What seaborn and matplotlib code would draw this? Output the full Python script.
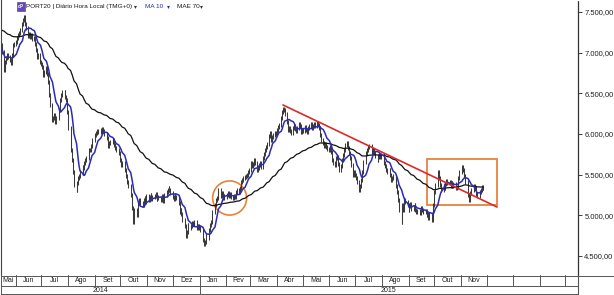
import numpy as np
import pandas as pd
import matplotlib
matplotlib.use("Agg")
import matplotlib.pyplot as plt
import matplotlib.dates as mdates
from matplotlib.patches import Ellipse, Rectangle
import seaborn as sns

# ---------------- data (daily closes) ----------------
start_date = "2014-05-15"
close_2014_05 = [7094, 7008, 6787, 6885, 6934, 6971, 6947, 6910, 6873, 6971, 7094, 7107]
close_2014_06 = [7131, 7180, 7217, 7242, 7279, 7352, 7402, 7439, 7352, 7303, 7205, 7230,
                 7193, 7217, 7168, 7180, 7107, 7033, 6947, 6971, 6885]
close_2014_07 = [6861, 6824, 6725, 6762, 6812, 6738, 6639, 6480, 6357, 6172, 6197, 6234,
                 6148, 6197, 6234, 6295, 6418, 6480, 6516, 6516, 6455, 6418, 6270]
close_2014_08 = [6074, 5889, 5803, 5680, 5533, 5373, 5311, 5398, 5459, 5484, 5533, 5594,
                 5582, 5643, 5680, 5705, 5766, 5803, 5803, 5852, 5926]
close_2014_09 = [5963, 5988, 6012, 6037, 6025, 6049, 6037, 6061, 6037, 6000, 5951, 5926,
                 5852, 5889, 5902, 5926, 5889, 5865, 5828, 5803, 5766, 5729]
close_2014_10 = [5680, 5619, 5643, 5557, 5508, 5484, 5410, 5361, 5250, 5188, 5090, 4918,
                 5066, 5004, 5127, 5152, 5188, 5152, 5127, 5188, 5213, 5164, 5238]
close_2014_11 = [5188, 5225, 5250, 5201, 5225, 5238, 5262, 5201, 5225, 5213, 5188, 5238,
                 5213, 5176, 5250, 5287, 5311, 5336, 5311, 5275]
close_2014_12 = [5225, 5201, 5238, 5213, 5225, 5152, 5041, 5066, 5016, 4943, 4869, 4746,
                 4795, 4881, 4844, 4869, 4906, 4893, 4893, 4918, 4844, 4869, 4844]
close_2015_01 = [4844, 4820, 4697, 4647, 4672, 4746, 4721, 4820, 4881, 4918, 5004, 5041,
                 5127, 5188, 5213, 5287, 5311, 5238, 5275, 5213, 5238, 5225]
close_2015_02 = [5250, 5275, 5238, 5262, 5225, 5213, 5238, 5225, 5287, 5311, 5287, 5336,
                 5410, 5434, 5459, 5471, 5484, 5496, 5533, 5557]
close_2015_03 = [5643, 5606, 5631, 5680, 5643, 5557, 5582, 5619, 5643, 5594, 5705, 5754,
                 5803, 5840, 5877, 5975, 6012, 5926, 5963, 5988, 6012, 6000]
close_2015_04 = [6049, 6086, 6111, 6197, 6270, 6307, 6295, 6246, 6148, 6049, 6074, 6037,
                 6012, 6074, 6098, 6061, 6037, 6074, 6123, 6098, 6025, 6049]
close_2015_05 = [6037, 6086, 6049, 6025, 6074, 6098, 6123, 6074, 6098, 6123, 6098, 6135,
                 6111, 6074, 5988, 5926, 5889, 5852, 5877, 5840, 5815]
close_2015_06 = [5803, 5840, 5779, 5680, 5643, 5619, 5705, 5717, 5631, 5557, 5606, 5680,
                 5742, 5803, 5865, 5889, 5828, 5766, 5705, 5619, 5496, 5533]
close_2015_07 = [5496, 5459, 5410, 5311, 5361, 5434, 5533, 5656, 5705, 5766, 5803, 5840,
                 5852, 5815, 5779, 5803, 5766, 5729, 5680, 5717, 5742, 5717, 5742]
close_2015_08 = [5680, 5643, 5606, 5557, 5533, 5557, 5496, 5434, 5459, 5484, 5410, 5361,
                 5287, 5188, 5066, 4918, 5127, 5066, 5188, 5164, 5127]
close_2015_09 = [5066, 5115, 5139, 5078, 5102, 5127, 5066, 5041, 5053, 5029, 5066, 5090,
                 5066, 5041, 5053, 5004, 5016, 4967, 5016, 4943, 4980, 5127]
close_2015_10 = [5287, 5373, 5533, 5496, 5459, 5373, 5311, 5361, 5336, 5385, 5422, 5398,
                 5410, 5361, 5398, 5361, 5385, 5336, 5348, 5398, 5459, 5533]
close_2015_11 = [5594, 5557, 5508, 5484, 5410, 5250, 5188, 5213, 5275, 5311, 5361, 5336,
                 5311, 5262, 5238, 5287, 5311, 5336, 5348, 5336]

ema70_seed = 7290          # level of the MAE 70 at the left edge
ma_window = 10
ema_span = 70

month_labels = ["Mai", "Jun", "Jul", "Ago", "Set", "Out", "Nov", "Dez", "Jan", "Fev",
                "Mar", "Abr", "Mai", "Jun", "Jul", "Ago", "Set", "Out", "Nov"]
year_labels = ["2014", "2015"]
y_ticks = [4500, 5000, 5500, 6000, 6500, 7000, 7500]

# annotations drawn on the chart
trend_dates = ["2015-04-08", "2015-12-13"]
trend_values = [6357, 5102]
circle_center = ("2015-02-05", 5213)
circle_size = (39.5, 420)            # days, points
box_dates = ["2015-09-22", "2015-12-13"]
box_values = [5127, 5692]

title_text = "PORT20 | Diário Hora Local (TMG+0)"

# ---------------- build table ----------------
closes = np.array(close_2014_05 + close_2014_06 + close_2014_07 + close_2014_08 +
                  close_2014_09 + close_2014_10 + close_2014_11 + close_2014_12 +
                  close_2015_01 + close_2015_02 + close_2015_03 + close_2015_04 +
                  close_2015_05 + close_2015_06 + close_2015_07 + close_2015_08 +
                  close_2015_09 + close_2015_10 + close_2015_11, dtype=float)
dates = pd.bdate_range(start_date, periods=len(closes))
df = pd.DataFrame({"date": dates, "close": closes})
df["ma10"] = df["close"].rolling(ma_window, min_periods=1).mean()
alpha = 2.0 / (ema_span + 1)
ema = []
prev = ema70_seed
for c in closes:
    prev = alpha * c + (1 - alpha) * prev
    ema.append(prev)
df["ema70"] = ema
prev_close = np.concatenate([[closes[0]], closes[:-1]])
pad = 28
df["lo"] = np.minimum(prev_close, closes) - pad
df["hi"] = np.maximum(prev_close, closes) + pad

# ---------------- figure ----------------
sns.set_style("white")
plt.rcParams["font.family"] = ["Liberation Sans", "DejaVu Sans"]

W, H = 614, 295
fig = plt.figure(figsize=(W / 100, H / 100), dpi=100)
fig.patch.set_facecolor("white")

axis_right_px = 578
plot_bottom_px = 275
ax = fig.add_axes([0.5 / W, (H - plot_bottom_px) / H, (axis_right_px - 0.5) / W,
                   plot_bottom_px / H])

x_left = pd.Timestamp("2014-05-14 13:00")
x_right = pd.Timestamp("2016-03-16 02:00")

ax.vlines(df["date"], df["lo"], df["hi"], color="#3a3a3a", linewidth=0.75)
sns.lineplot(data=df, x="date", y="ema70", ax=ax, color="#111111", linewidth=0.9)
sns.lineplot(data=df, x="date", y="ma10", ax=ax, color="#2b2bb5", linewidth=1.1)

# trend line, circle, rectangle
ax.plot(pd.to_datetime(trend_dates), trend_values, color="#e0282a", linewidth=1.2)
cx = mdates.date2num(pd.Timestamp(circle_center[0]))
ax.add_patch(Ellipse((cx, circle_center[1]), circle_size[0], circle_size[1],
                     fill=False, edgecolor="#e8823a", linewidth=1.2))
bx0, bx1 = mdates.date2num(pd.to_datetime(box_dates))
ax.add_patch(Rectangle((bx0, box_values[0]), bx1 - bx0, box_values[1] - box_values[0],
                       fill=False, edgecolor="#e8823a", linewidth=1.3))

ax.set_xlim(x_left, x_right)
ax.set_ylim(4266, 7647.5)
ax.set_xlabel("")
ax.set_ylabel("")
ax.set_xticks([])
ax.yaxis.tick_right()
ax.set_yticks(y_ticks)
ax.set_yticklabels([f"{v:,.2f}".replace(",", "X").replace(".", ",").replace("X", ".")
                    for v in y_ticks])
ax.tick_params(axis="y", which="major", direction="out", length=3, width=0.6,
               pad=1.5, labelsize=5.5, labelcolor="#222222", color="#222222")
for s in ["top", "bottom"]:
    ax.spines[s].set_visible(False)
ax.spines["left"].set_color("#444444")
ax.spines["left"].set_linewidth(0.8)
ax.spines["right"].set_color("#333333")
ax.spines["right"].set_linewidth(0.9)
ax.spines["right"].set_linestyle((0, (1, 1)))
if ax.get_legend():
    ax.get_legend().remove()

# ---------------- bottom month / year band ----------------
axb = fig.add_axes([0.5 / W, 0, (axis_right_px - 0.5) / W, (H - plot_bottom_px) / H])
axb.set_xlim(x_left, x_right)
axb.set_ylim(295, 275)
axb.axis("off")
line_kw = dict(color="#555555", linewidth=0.7)
axb.axhline(275.5, **line_kw)
axb.axhline(286, **line_kw)
axb.axhline(294, **line_kw)
month_starts = pd.date_range("2014-06-01", "2016-03-01", freq="MS")
for m in month_starts:
    if m == pd.Timestamp("2015-01-01"):
        axb.plot([m, m], [275, 294], **line_kw)
    else:
        axb.plot([m, m], [275, 286], **line_kw)
bounds = [x_left] + list(month_starts) + [x_right]
for i, lab in enumerate(month_labels):
    a, b = bounds[i], bounds[i + 1]
    mid = a + (b - a) / 2
    axb.text(mid, 281, lab, ha="center", va="center", fontsize=5, color="#222222")
year_bounds = [x_left, pd.Timestamp("2015-01-01"), x_right]
for i, lab in enumerate(year_labels):
    a, b = year_bounds[i], year_bounds[i + 1]
    axb.text(a + (b - a) / 2, 290.2, lab, ha="center", va="center", fontsize=5,
             color="#222222")

# right column box lines (figure coords)
fy = lambda py: 1 - py / H
fx = lambda px: px / W
fig.add_artist(plt.Line2D([fx(axis_right_px), fx(axis_right_px)], [fy(275), fy(295)],
                          color="#555555", linewidth=0.8))
fig.add_artist(plt.Line2D([fx(axis_right_px), 1], [fy(275.5), fy(275.5)],
                          color="#555555", linewidth=0.7))
fig.add_artist(plt.Line2D([fx(0.5), fx(0.5)], [fy(275), fy(295)],
                          color="#555555", linewidth=0.7))

# ---------------- header ----------------
fig.add_artist(Rectangle((fx(17), fy(10.5)), 8 / W, 8.5 / H, transform=fig.transFigure,
                         facecolor="#6547b8", edgecolor="#4a3290", linewidth=0.4))
fig.text(fx(21), fy(6.3), "dP", fontsize=3.3, color="white", ha="center", va="center",
         fontweight="bold")
fig.text(fx(26), fy(6.5), title_text, fontsize=4.6, color="#1a1a1a", va="center")
fig.text(fx(134), fy(6.5), "▾", fontsize=4.2, color="#333333", va="center",
         family=["DejaVu Sans"])
fig.text(fx(145), fy(6.5), "MA 10", fontsize=4.6, color="#2b2bb5", va="center")
fig.text(fx(167), fy(6.5), "▾", fontsize=4.2, color="#2b2bb5", va="center",
         family=["DejaVu Sans"])
fig.text(fx(177), fy(6.5), "MAE 70", fontsize=4.6, color="#1a1a1a", va="center")
fig.text(fx(200), fy(6.5), "▾", fontsize=4.2, color="#333333", va="center",
         family=["DejaVu Sans"])

fig.savefig("out.png", dpi=100, facecolor="white")
